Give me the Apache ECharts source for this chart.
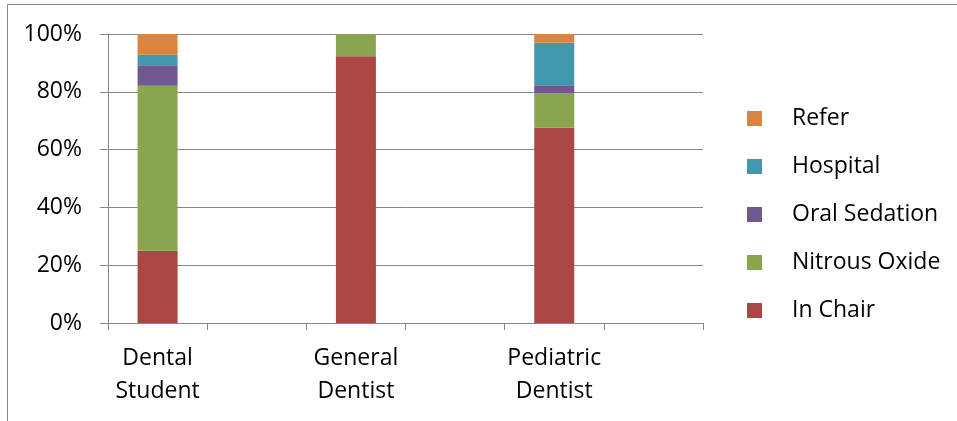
<!DOCTYPE html>
<html><head><meta charset="utf-8">
<script src="https://cdn.jsdelivr.net/npm/echarts@6/dist/echarts.min.js"></script>
<style>html,body{margin:0;padding:0;background:#fff}#c{width:957px;height:421px}</style>
</head><body><div id="c"></div>
<script>
const categories = ['Dental\nStudent', '', 'General\nDentist', '', 'Pediatric\nDentist', ''];
const inChair      = [25.0, '-', 92.3, '-', 67.6, '-'];
const nitrousOxide = [57.1, '-', 7.7,  '-', 11.8, '-'];
const oralSedation = [7.1,  '-', 0,    '-', 2.9,  '-'];
const hospital     = [3.6,  '-', 0,    '-', 14.7, '-'];
const refer        = [7.2,  '-', 0,    '-', 3.0,  '-'];
const yTicks = [0, 20, 40, 60, 80, 100];

const font = '"Open Sans", sans-serif';
const gridColor = '#868686';
const mk = (name, data, color) => ({
  name, type: 'bar', stack: 'all', data, barWidth: 40,
  itemStyle: { color }, emphasis: { disabled: true }
});
const chart = echarts.init(document.getElementById('c'), null, { renderer: 'canvas' });
chart.setOption({
  animation: false,
  textStyle: { fontFamily: font },
  grid: { left: 108, right: 254, top: 34, bottom: 98 },
  xAxis: {
    type: 'category', data: categories,
    axisLine: { lineStyle: { color: gridColor, width: 1 } },
    axisTick: { show: true, length: 7, lineStyle: { color: gridColor } },
    axisLabel: { color: '#000', fontSize: 23, fontFamily: font, lineHeight: 33, margin: 19, interval: 0 }
  },
  yAxis: {
    type: 'value', min: 0, max: 100, interval: 20,
    axisLine: { show: true, lineStyle: { color: gridColor, width: 1 } },
    axisTick: { show: true, length: 8, lineStyle: { color: gridColor } },
    splitLine: { lineStyle: { color: gridColor, width: 1 } },
    axisLabel: { color: '#000', fontSize: 23, fontFamily: font, margin: 26,
      formatter: v => yTicks.includes(v) ? v + '%' : '' }
  },
  legend: {
    orient: 'vertical', left: 742, top: 102,
    icon: 'rect', itemWidth: 15, itemHeight: 15, itemGap: 25,
    data: ['Refer', 'Hospital', 'Oral Sedation', 'Nitrous Oxide', 'In Chair'],
    formatter: n => '{a|' + n + '}',
    textStyle: { rich: { a: { fontSize: 23, fontFamily: font, color: '#000', lineHeight: 30, padding: [0, 0, 0, 25] } } },
    selectedMode: false
  },
  graphic: [{
    type: 'rect', silent: true,
    shape: { x: 7.5, y: 4.5, width: 1000, height: 1000 },
    style: { fill: 'none', stroke: '#888', lineWidth: 1 }
  }],
  series: [
    mk('In Chair', inChair, '#AA4643'),
    mk('Nitrous Oxide', nitrousOxide, '#89A54E'),
    mk('Oral Sedation', oralSedation, '#71588F'),
    mk('Hospital', hospital, '#4198AF'),
    mk('Refer', refer, '#DB843D')
  ]
});
</script></body></html>
